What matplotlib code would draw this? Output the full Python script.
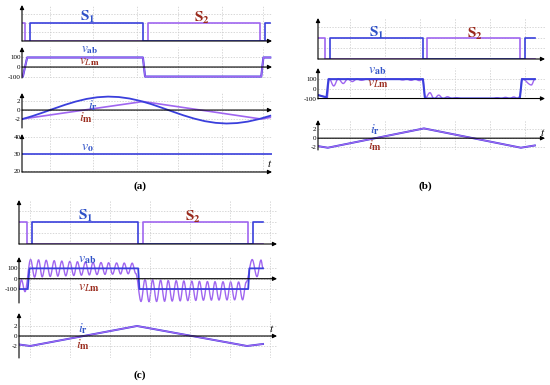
import matplotlib
matplotlib.use("Agg")
import numpy as np
import matplotlib.pyplot as plt
from matplotlib.path import Path
from matplotlib.patches import PathPatch

plt.rcParams['font.family'] = ['Liberation Serif', 'DejaVu Serif']
plt.rcParams['mathtext.fontset'] = 'stix'

W, H = 550, 385
BLUE = '#3a3fdc'
PURPLE = '#a066f0'
LBLUE = '#3052c8'
RED = '#9a2a1c'

# ---------------- panel (a) ----------------
a_grid = [0.65, 1.65, 2.67, 3.63, 4.65, 5.6]
a_s1_t = [0.19, 0.19, 2.81, 2.81, 5.65, 5.65, 5.77]
a_s1 = [0, 1, 1, 0, 0, 1, 1]
a_s2_t = [0, 0.07, 0.07, 2.93, 2.93, 5.53, 5.53, 5.77]
a_s2 = [1, 1, 0, 0, 1, 1, 0, 0]
a_v_t = [0, 0.02, 0.12, 2.81, 2.86, 5.56, 5.61, 5.77]
a_vab = [-100, -100, 100, 100, -100, -100, 100, 100]
a_vlm = [-100, -100, 100, 100, -100, -100, 100, 100]
a_ir_t = [0, 0.25, 0.5, 0.75, 1.0, 1.25, 1.5, 1.75, 2.0, 2.25, 2.5, 2.75,
          3.0, 3.25, 3.5, 3.75, 4.0, 4.25, 4.5, 4.75, 5.0, 5.25, 5.5, 5.77]
a_ir = [-2.03, -1.32, -0.51, 0.34, 1.17, 1.9, 2.48, 2.85, 3.0, 2.9, 2.57, 2.03,
        1.33, 0.51, -0.34, -1.17, -1.9, -2.48, -2.85, -3.0, -2.9, -2.57, -2.03, -1.27]
a_im_t = [0, 2.81, 5.56, 5.77]
a_im = [-2.0, 1.9, -2.0, -1.65]
a_vo_t = [0, 5.81]
a_vo = [30, 30]

# ---------------- panel (b) ----------------
b_grid = [0.91, 1.91, 2.91, 3.91, 4.91, 5.91]
b_s1_t = [0.34, 0.34, 3.0, 3.0, 5.91, 5.91, 6.2]
b_s1 = [0, 1, 1, 0, 0, 1, 1]
b_s2_t = [0, 0.2, 0.2, 3.11, 3.11, 5.77, 5.77, 6.2]
b_s2 = [1, 1, 0, 0, 1, 1, 0, 0]
b_vab_t = [0, 0.22, 0.24, 0.3, 3.0, 3.06, 5.77, 5.83, 6.2]
b_vab = [-65, -85, -100, 100, 100, -100, -100, 100, 100]
b_vlm_t = [0, 0.22, 0.26, 0.32, 0.45, 0.58, 0.72, 0.85, 0.98, 1.11, 1.24, 1.4,
           2.3, 2.42, 2.54, 2.66, 2.78, 2.9, 3.0, 3.06, 3.2, 3.32, 3.45, 3.58,
           3.7, 3.83, 3.95, 4.1, 5.0, 5.12, 5.24, 5.36, 5.48, 5.6, 5.7, 5.77,
           5.83, 6.1, 6.2]
b_vlm = [-65, -85, -100, 105, 30, 105, 55, 102, 75, 101, 88, 100,
         100, 92, 100, 88, 100, 85, 100, -100, -40, -105, -65, -102,
         -82, -100, -92, -100, -100, -92, -100, -88, -100, -84, -100, -80,
         105, 40, 100]
b_i_t = [0, 0.28, 3.03, 5.8, 6.2]
b_ir = [-1.75, -2.1, 2.15, -2.1, -1.6]
b_im = [-1.75, -2.1, 2.15, -2.1, -1.6]

# ---------------- panel (c) ----------------
c_grid = [0.28, 1.28, 2.28, 3.28, 4.28, 5.28, 6.28]
c_s1_t = [0.33, 0.33, 2.98, 2.98, 5.85, 5.85, 6.1]
c_s1 = [0, 1, 1, 0, 0, 1, 1]
c_s2_t = [0, 0.2, 0.2, 3.1, 3.1, 5.73, 5.73, 6.1]
c_s2 = [1, 1, 0, 0, 1, 1, 0, 0]
c_vlm_t = [0, 0.22, 0.26, 2.98, 3.01, 5.73, 5.76, 6.1]
c_vlm = [-100, -100, 100, 100, -100, -100, 100, 100]
# vab ringing: start, positive peaks/troughs, negative troughs/peaks, end
c_pre_t = [0, 0.06, 0.15]
c_pre = [-100, -10, -125]
c_pos_pk_t = [0.29, 0.49, 0.68, 0.88, 1.07, 1.27, 1.46, 1.66, 1.85, 2.05, 2.24, 2.44, 2.63, 2.83]
c_pos_pk = [185, 182, 178, 174, 170, 167, 164, 161, 158, 156, 154, 152, 151, 150]
c_pos_tr_t = [0.39, 0.58, 0.78, 0.97, 1.17, 1.37, 1.56, 1.76, 1.95, 2.15, 2.34, 2.54, 2.73, 2.92]
c_pos_tr = [15, 18, 22, 25, 28, 31, 34, 37, 40, 42, 44, 46, 48, 50]
c_neg_tr_t = [3.05, 3.25, 3.44, 3.64, 3.83, 4.03, 4.22, 4.42, 4.61, 4.81, 5.0, 5.2, 5.39, 5.59]
c_neg_tr = [-220, -222, -220, -218, -216, -214, -212, -210, -208, -207, -206, -205, -204, -204]
c_neg_pk_t = [3.15, 3.34, 3.54, 3.73, 3.93, 4.12, 4.32, 4.51, 4.71, 4.9, 5.1, 5.29, 5.49, 5.68]
c_neg_pk = [-5, -10, -14, -18, -20, -22, -24, -26, -28, -29, -30, -31, -32, -33]
c_end_t = [5.83, 5.95, 6.05, 6.1]
c_end = [185, 20, 180, 100]
c_i_t = [0, 0.28, 2.95, 5.7, 6.1]
c_ir = [-1.7, -2.0, 2.0, -2.0, -1.6]
c_im = [-1.7, -2.0, 2.0, -2.0, -1.6]


fig = plt.figure(figsize=(W / 100, H / 100), dpi=100)


def add_ax(px0, px1, ptop, pbot, xmax, ylim, grid_t, yt, ylab, y0):
    ax = fig.add_axes([px0 / W, 1 - pbot / H, (px1 - px0) / W, (pbot - ptop) / H])
    ax.set_xlim(0, xmax)
    ax.set_ylim(*ylim)
    ax.patch.set_alpha(0)
    for s in ax.spines.values():
        s.set_visible(False)
    ax.set_xticks(grid_t)
    ax.set_xticklabels([])
    ax.set_yticks(yt)
    ax.set_yticklabels(ylab)
    ax.tick_params(length=0, labelsize=5, pad=1)
    ax.grid(True, color='#c8c8c8', lw=0.5, ls=(0, (2, 2)))
    arw = dict(arrowstyle='-|>', color='black', lw=0.8, mutation_scale=6, shrinkA=0, shrinkB=0)
    ax.annotate('', xy=(1, y0), xytext=(0, y0), xycoords=('axes fraction', 'data'),
                arrowprops=arw, zorder=5)
    ax.annotate('', xy=(0, 1), xytext=(0, 0), xycoords='axes fraction',
                arrowprops=arw, zorder=5)
    return ax


def smooth(ax, t, v, **kw):
    # cubic bezier between consecutive extremes, flat tangents -> sine-like ringing
    verts = [(t[0], v[0])]
    codes = [Path.MOVETO]
    for k in range(1, len(t)):
        dx = t[k] - t[k - 1]
        verts += [(t[k - 1] + 0.36 * dx, v[k - 1]), (t[k] - 0.36 * dx, v[k]), (t[k], v[k])]
        codes += [Path.CURVE4] * 3
    ax.add_patch(PathPatch(Path(verts, codes), fill=False, capstyle='round', **kw))


def lab(x, y, s, color, size=10):
    fig.text(x / W, 1 - y / H, s, color=color, fontsize=size, ha='center', va='center')


def s_panel(px0, px1, ptop, pbot, xmax, ymax, grid_t, s1t, s1, s2t, s2):
    ax = add_ax(px0, px1, ptop, pbot, xmax, (0, ymax), grid_t, [0.5, 1, 1.5], [], 0)
    ax.plot(s2t, s2, color=PURPLE, lw=1.2)
    ax.plot(s1t, s1, color=BLUE, lw=1.2)
    return ax


S1 = r'$\mathbf{S}_\mathbf{1}$'
S2 = r'$\mathbf{S}_\mathbf{2}$'
VAB = r'$v_{\mathbf{ab}}$'
VLM = r'$v_{L\mathbf{m}}$'
IR = r'$i_{\mathbf{r}}$'
IM = r'$i_{\mathbf{m}}$'

# ---- (a)
s_panel(22, 272, 5, 41, 5.81, 2, a_grid, a_s1_t, a_s1, a_s2_t, a_s2)
ax = add_ax(22, 272, 47, 78, 5.81, (-115, 210), a_grid, [100, 0, -100], ['100', '0', '-100'], 0)
ax.plot(a_v_t, a_vab, color=BLUE, lw=1.5)
ax.plot(a_v_t, a_vlm, color=PURPLE, lw=1.0)
ax = add_ax(22, 272, 93, 128, 5.81, (-4, 3.8), a_grid, [2, 0, -2], ['2', '0', '-2'], 0)
ax.plot(a_im_t, a_im, color=PURPLE, lw=1.2)
ax.plot(a_ir_t, a_ir, color=BLUE, lw=1.3)
ax = add_ax(22, 272, 134, 172, 5.81, (19.5, 41.8), a_grid, [40, 30, 20], ['40', '30', '20'], 19.5)
ax.plot(a_vo_t, a_vo, color=BLUE, lw=1.2)

lab(88, 17, S1, LBLUE, 11)
lab(202, 18, S2, RED, 11)
lab(90, 50, VAB, LBLUE, 9.5)
lab(89, 62, VLM, RED, 9.5)
lab(93, 106, IR, LBLUE)
lab(86, 118, IM, RED)
lab(87, 147, r'$v_{\mathbf{o}}$', LBLUE)
lab(270, 164, r'$t$', 'black', 8)
fig.text(140 / W, 1 - 186 / H, '(a)', fontsize=8, fontweight='bold', ha='center', va='center')

# ---- (b)
s_panel(318, 545, 18, 59, 6.49, 1.95, b_grid, b_s1_t, b_s1, b_s2_t, b_s2)
ax = add_ax(318, 545, 68, 99, 6.49, (-105, 215), b_grid, [100, 0, -100], ['100', '0', '-100'], -100)
ax.plot(b_vab_t, b_vab, color=BLUE, lw=1.5)
smooth(ax, b_vlm_t, b_vlm, color=PURPLE, lw=1.0)
ax = add_ax(318, 545, 120, 150, 6.49, (-2.6, 4.0), b_grid, [2, 0, -2], ['2', '0', '-2'], 0)
ax.plot(b_i_t, b_ir, color=BLUE, lw=1.4)
ax.plot(b_i_t, b_im, color=PURPLE, lw=0.9)

lab(377, 33, S1, LBLUE, 11)
lab(475, 34, S2, RED, 11)
lab(377, 71, VAB, LBLUE)
lab(378, 84, VLM, RED)
lab(375, 130, IR, LBLUE)
lab(375, 146, IM, RED)
lab(543, 132, r'$t$', 'black', 8)
fig.text(425 / W, 1 - 186 / H, '(b)', fontsize=8, fontweight='bold', ha='center', va='center')

# ---- (c)
s_panel(19, 277, 200, 244, 6.45, 2, c_grid, c_s1_t, c_s1, c_s2_t, c_s2)
ax = add_ax(19, 277, 257, 303, 6.45, (-235, 210), c_grid, [100, 0, -100], ['100', '0', '-100'], 0)
pos_t = np.ravel(np.column_stack([c_pos_pk_t, c_pos_tr_t]))
pos_v = np.ravel(np.column_stack([c_pos_pk, c_pos_tr]))
neg_t = np.ravel(np.column_stack([c_neg_tr_t, c_neg_pk_t]))
neg_v = np.ravel(np.column_stack([c_neg_tr, c_neg_pk]))
vab_t = np.concatenate([c_pre_t, pos_t, neg_t, c_end_t])
vab_v = np.concatenate([c_pre, pos_v, neg_v, c_end])
smooth(ax, vab_t, vab_v, color=PURPLE, lw=1.0)
ax.plot(c_vlm_t, c_vlm, color=BLUE, lw=1.3)
ax = add_ax(19, 277, 313, 358, 6.45, (-4.4, 4.6), c_grid, [2, 0, -2], ['2', '0', '-2'], 0)
ax.plot(c_i_t, c_ir, color=BLUE, lw=1.4)
ax.plot(c_i_t, c_im, color=PURPLE, lw=0.9)

lab(86, 216, S1, LBLUE, 11)
lab(193, 217, S2, RED, 11)
lab(87, 260, VAB, LBLUE)
lab(89, 287, VLM, RED)
lab(83, 329, IR, LBLUE)
lab(83, 345, IM, RED)
lab(272, 329, r'$t$', 'black', 8)
fig.text(140 / W, 1 - 375 / H, '(c)', fontsize=8, fontweight='bold', ha='center', va='center')

fig.savefig('out.png', dpi=100)
